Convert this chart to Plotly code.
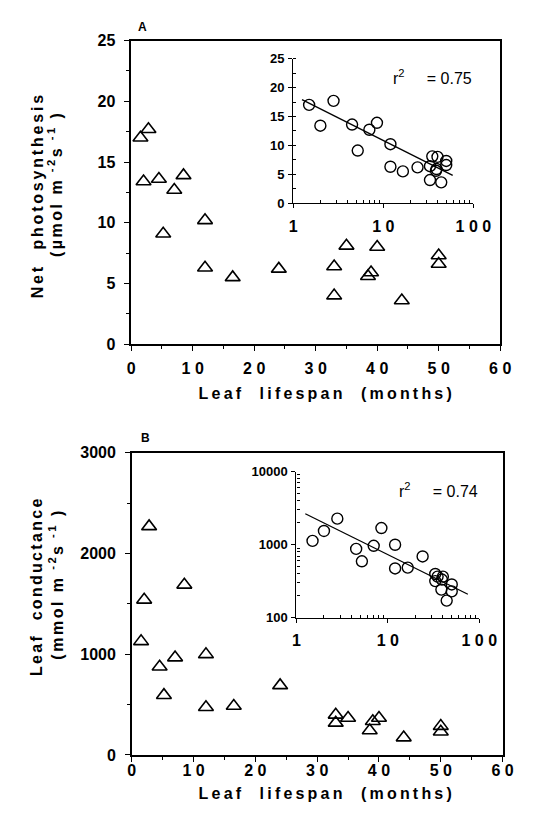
import json
import plotly.graph_objects as go

# ---------------- data ----------------
months = [1.5, 2.8, 2.0, 4.5, 7.0, 8.5, 5.2, 12.0, 12.0, 16.5, 24.0,
          33.0, 33.0, 35.0, 38.5, 39.0, 40.0, 44.0, 50.0, 50.0]
photosynthesis = [17.0, 17.7, 13.4, 13.6, 12.7, 13.9, 9.1, 10.2, 6.3, 5.5, 6.2,
                  6.4, 4.0, 8.1, 5.6, 5.9, 8.0, 3.6, 7.3, 6.6]
conductance = [1127, 2268, 1539, 875, 966, 1688, 593, 998, 473, 486, 690,
               398, 318, 366, 243, 334, 366, 172, 286, 230]

fitA_x = [1.25, 59.0]
fitA_y = [17.9, 4.8]
fitB_x = [1.25, 75.0]
fitB_y = [2650, 210]

main_x_ticks = [0, 10, 20, 30, 40, 50, 60]
main_x_text = ["0", "1 0", "2 0", "3 0", "4 0", "5 0", "6 0"]
inset_x_ticks = [1, 10, 100]
inset_x_text = ["1", "1 0", "1 0 0"]
inset_x_minor = [2, 3, 4, 5, 6, 7, 8, 9, 20, 30, 40, 50, 60, 70, 80, 90]
insetB_y_ticks = [100, 1000, 10000]
insetB_y_text = ["100", "1000", "10000"]
insetB_y_minor = [200, 300, 400, 500, 600, 700, 800, 900,
                  2000, 3000, 4000, 5000, 6000, 7000, 8000, 9000]
r2_A = "0.75"
r2_B = "0.74"

# ---------------- layout helpers ----------------
W, H = 534, 823
def fx(p):
    return p / W
def fy(p):
    return 1 - p / H

FONT = "Liberation Sans, Arial, Helvetica, sans-serif"
BLACK = "black"

fig = go.Figure()

tri = dict(symbol="triangle-up-open", size=13, color=BLACK, line=dict(width=1.6, color=BLACK))
circ = dict(symbol="circle-open", size=11, color=BLACK, line=dict(width=1.4, color=BLACK))

fig.add_trace(go.Scatter(x=months, y=photosynthesis, mode="markers", marker=tri,
                         xaxis="x", yaxis="y", showlegend=False))
fig.add_trace(go.Scatter(x=fitA_x, y=fitA_y, mode="lines", line=dict(color=BLACK, width=1.3),
                         xaxis="x3", yaxis="y3", showlegend=False))
fig.add_trace(go.Scatter(x=months, y=photosynthesis, mode="markers", marker=circ,
                         xaxis="x3", yaxis="y3", showlegend=False))

fig.add_trace(go.Scatter(x=months, y=conductance, mode="markers", marker=tri,
                         xaxis="x2", yaxis="y2", showlegend=False))
fig.add_trace(go.Scatter(x=fitB_x, y=fitB_y, mode="lines", line=dict(color=BLACK, width=1.3),
                         xaxis="x4", yaxis="y4", showlegend=False))
fig.add_trace(go.Scatter(x=months, y=conductance, mode="markers", marker=circ,
                         xaxis="x4", yaxis="y4", showlegend=False))

tickfont_main = dict(family=FONT, size=16, color=BLACK, weight="bold")
tickfont_inset = dict(family=FONT, size=13, color=BLACK, weight="bold")

def main_x(domain, anchor, standoff):
    return dict(domain=domain, anchor=anchor, range=[0, 60], tickvals=main_x_ticks,
                ticktext=main_x_text, ticks="outside", ticklen=5, tickwidth=1.3,
                tickcolor=BLACK, showline=True, linecolor=BLACK, linewidth=1.5,
                mirror=True, showgrid=False, zeroline=False, tickfont=tickfont_main,
                ticklabelstandoff=standoff,
                minor=dict(dtick=5, ticks="outside", ticklen=3, tickcolor=BLACK, showgrid=False))

def main_y(domain, anchor, rng, dtick, minor):
    return dict(domain=domain, anchor=anchor, range=rng, dtick=dtick, tick0=0,
                ticks="outside", ticklen=5, tickwidth=1.3, tickcolor=BLACK,
                showline=True, linecolor=BLACK, linewidth=1.5, mirror=True,
                showgrid=False, zeroline=False, tickfont=tickfont_main,
                ticklabelstandoff=6,
                minor=dict(dtick=minor, ticks="outside", ticklen=3, tickcolor=BLACK, showgrid=False))

def inset_x(domain, anchor):
    return dict(domain=domain, anchor=anchor, type="log", range=[0, 2],
                tickvals=inset_x_ticks, ticktext=inset_x_text,
                ticks="outside", ticklen=4, tickwidth=1.2, tickcolor=BLACK,
                showline=True, linecolor=BLACK, linewidth=1.3, mirror=False,
                showgrid=False, zeroline=False, tickfont=tickfont_main,
                ticklabelstandoff=4,
                minor=dict(tickvals=inset_x_minor, ticks="inside", ticklen=3,
                           tickcolor=BLACK, showgrid=False))

layout = dict(
    width=W, height=H, margin=dict(l=0, r=0, t=0, b=0),
    paper_bgcolor="white", plot_bgcolor="rgba(0,0,0,0)",
    xaxis=main_x([fx(132.7), fx(517.5)], "y", 4),
    yaxis=main_y([fy(343.3), fy(33.3)], "x", [0, 25], 5, 2.5),
    xaxis2=main_x([fx(133.3), fx(520.0)], "y2", -5),
    yaxis2=main_y([fy(762.7), fy(454.0)], "x2", [0, 3000], 1000, 500),
    xaxis3=inset_x([fx(301.7), fx(489.5)], "y3"),
    yaxis3=dict(domain=[fy(199.3), fy(51.7)], anchor="x3", range=[0, 25], dtick=5, tick0=0,
                ticks="outside", ticklen=4, tickwidth=1.2, tickcolor=BLACK,
                showline=True, linecolor=BLACK, linewidth=1.3, showgrid=False,
                zeroline=False, tickfont=tickfont_inset, ticklabelstandoff=1,
                minor=dict(dtick=2.5, ticks="inside", ticklen=3, tickcolor=BLACK, showgrid=False)),
    xaxis4=inset_x([fx(305.0), fx(495.7)], "y4"),
    yaxis4=dict(domain=[fy(622.7), fy(473.3)], anchor="x4", type="log", range=[2, 4],
                tickvals=insetB_y_ticks, ticktext=insetB_y_text,
                ticks="outside", ticklen=4, tickwidth=1.2, tickcolor=BLACK,
                showline=True, linecolor=BLACK, linewidth=1.3, showgrid=False,
                zeroline=False, tickfont=tickfont_inset, ticklabelstandoff=1,
                minor=dict(tickvals=insetB_y_minor, ticks="inside", ticklen=3,
                           tickcolor=BLACK, showgrid=False)),
)
fig.update_layout(**layout)

NB = "\u00a0"
title_font = dict(family=FONT, size=16, color=BLACK, weight="bold")
r2_font = dict(family=FONT, size=16, color=BLACK)
ann = []
spacing = []
def add_text(x, y, text, font, angle=0, xanchor="center", yanchor="middle", ls=0):
    ann.append(dict(x=fx(x), y=fy(y), xref="paper", yref="paper", text=text,
                    showarrow=False, font=font, textangle=angle,
                    xanchor=xanchor, yanchor=yanchor))
    spacing.append(ls)

# panel A
add_text(144, 19, "A", dict(family=FONT, size=12, color=BLACK, weight="bold"))
add_text(337, 394, "Leaf" + NB * 2 + "lifespan" + NB * 2 + "(months)", title_font, ls=3.2)
add_text(34, 191, "Net" + NB * 2 + "photosynthesis", title_font, angle=-90, ls=2.8)
add_text(54, 180, "(\u00b5mol m<sup> -2</sup>s<sup> -1</sup> )", title_font, angle=-90, ls=2.5)
add_text(404, 70, "r<sup>2</sup>" + NB * 5 + "= " + r2_A, r2_font, xanchor="left")

# panel B
add_text(148, 439, "B", dict(family=FONT, size=12, color=BLACK, weight="bold"))
add_text(337, 802, "Leaf" + NB * 2 + "lifespan" + NB * 2 + "(months)", title_font, ls=3.2)
add_text(34, 590, "Leaf" + NB * 2 + "conductance", title_font, angle=-90, ls=2.3)
add_text(54, 588, "(mmol m<sup> -2</sup>s<sup> -1</sup> )", title_font, angle=-90, ls=2.5)
add_text(410, 492, "r<sup>2</sup>" + NB * 5 + "= " + r2_B, r2_font, xanchor="left")

fig.update_layout(annotations=ann)

post = """
var sp = %s;
var gd = document.getElementById('{plot_id}');
gd.querySelectorAll('g.annotation').forEach(function(g){
  var i = +g.getAttribute('data-index');
  if (sp[i]) {
    var t = g.querySelector('text.annotation-text');
    if (t) { t.style.letterSpacing = sp[i] + 'px'; }
  }
});
""" % json.dumps(spacing)

fig.write_html("out.html", post_script=post)
